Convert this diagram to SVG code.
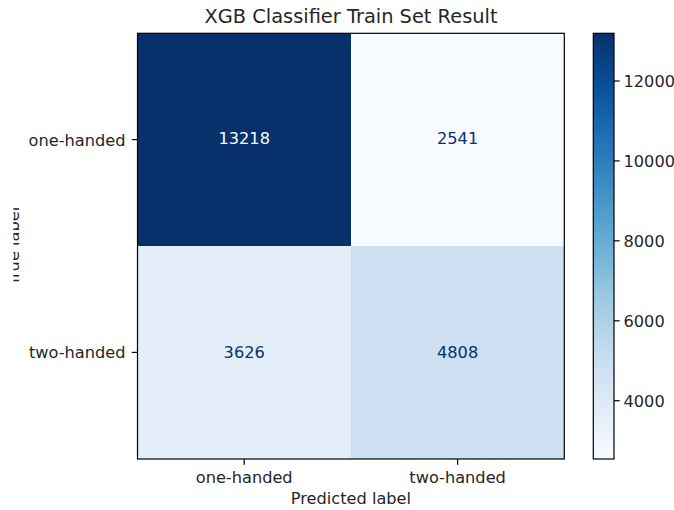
<svg xmlns="http://www.w3.org/2000/svg" width="674" height="510" viewBox="0 0 674 510">
  <style>
    text { font-family: "DejaVu Sans", "Liberation Sans", sans-serif; fill: #262626; }
    .tick { font-size: 16.2px; }
    .title { font-size: 19.4px; }
    .cell { font-size: 16.2px; text-anchor: middle; }
    .frame { fill: none; stroke: #000; stroke-width: 1.2; }
    .tk { stroke: #000; stroke-width: 1.2; }
  </style>
  <defs>
    <linearGradient id="blues" x1="0" y1="1" x2="0" y2="0">
      <stop offset="0" stop-color="#f7fbff"/>
      <stop offset="0.125" stop-color="#deebf7"/>
      <stop offset="0.25" stop-color="#c6dbef"/>
      <stop offset="0.375" stop-color="#9ecae1"/>
      <stop offset="0.5" stop-color="#6baed6"/>
      <stop offset="0.625" stop-color="#4292c6"/>
      <stop offset="0.75" stop-color="#2171b5"/>
      <stop offset="0.875" stop-color="#08519c"/>
      <stop offset="1" stop-color="#08306b"/>
    </linearGradient>
    <clipPath id="ylabclip">
      <rect x="13.4" y="0" width="40" height="510"/>
    </clipPath>
  </defs>
  <rect width="674" height="510" fill="#fff"/>

  <text class="title" x="351" y="23.3" text-anchor="middle">XGB Classifier Train Set Result</text>

  <!-- confusion matrix cells -->
  <g id="cell-00">
    <rect x="137.5" y="33.3" width="213.5" height="212.7" fill="#08306b"/>
    <text class="cell" x="244.2" y="144.3" style="fill:#f7fbff">13218</text>
  </g>
  <g id="cell-01">
    <rect x="351" y="33.3" width="213.3" height="212.7" fill="#f7fbff"/>
    <text class="cell" x="457.6" y="144.3" style="fill:#08306b">2541</text>
  </g>
  <g id="cell-10">
    <rect x="137.5" y="246" width="213.5" height="213" fill="#e3eef8"/>
    <text class="cell" x="244.2" y="357.8" style="fill:#08306b">3626</text>
  </g>
  <g id="cell-11">
    <rect x="351" y="246" width="213.3" height="213" fill="#cde0f1"/>
    <text class="cell" x="457.6" y="357.8" style="fill:#08306b">4808</text>
  </g>

  <g id="axes">
    <rect class="frame" x="137.5" y="33.3" width="426.8" height="425.7"/>
    <line class="tk" x1="131.8" y1="139.6" x2="137.5" y2="139.6"/>
    <line class="tk" x1="131.8" y1="352.4" x2="137.5" y2="352.4"/>
    <line class="tk" x1="244.2" y1="459" x2="244.2" y2="464.7"/>
    <line class="tk" x1="457.6" y1="459" x2="457.6" y2="464.7"/>
    <text class="tick" x="125.5" y="145.6" text-anchor="end">one-handed</text>
    <text class="tick" x="125.5" y="358.2" text-anchor="end">two-handed</text>
    <text class="tick" x="244.2" y="483" text-anchor="middle">one-handed</text>
    <text class="tick" x="457.6" y="483" text-anchor="middle">two-handed</text>
    <text class="tick" x="350.9" y="503.5" text-anchor="middle">Predicted label</text>
    <!-- y-axis title, only its lower strip falls inside the canvas -->
    <g clip-path="url(#ylabclip)">
      <text class="tick" transform="translate(19.3 246.2) rotate(-90)" text-anchor="middle">True label</text>
    </g>
  </g>

  <g id="colorbar">
    <rect x="593.3" y="33.3" width="20.7" height="425.7" fill="url(#blues)"/>
    <rect class="frame" x="593.3" y="33.3" width="20.7" height="425.7"/>
    <line class="tk" x1="614" y1="81" x2="619.7" y2="81"/>
    <line class="tk" x1="614" y1="160.9" x2="619.7" y2="160.9"/>
    <line class="tk" x1="614" y1="240.8" x2="619.7" y2="240.8"/>
    <line class="tk" x1="614" y1="320.8" x2="619.7" y2="320.8"/>
    <line class="tk" x1="614" y1="400.7" x2="619.7" y2="400.7"/>
    <text class="tick" x="623.5" y="86.9">12000</text>
    <text class="tick" x="623.5" y="166.8">10000</text>
    <text class="tick" x="623.5" y="246.7">8000</text>
    <text class="tick" x="623.5" y="326.7">6000</text>
    <text class="tick" x="623.5" y="406.6">4000</text>
  </g>
</svg>
